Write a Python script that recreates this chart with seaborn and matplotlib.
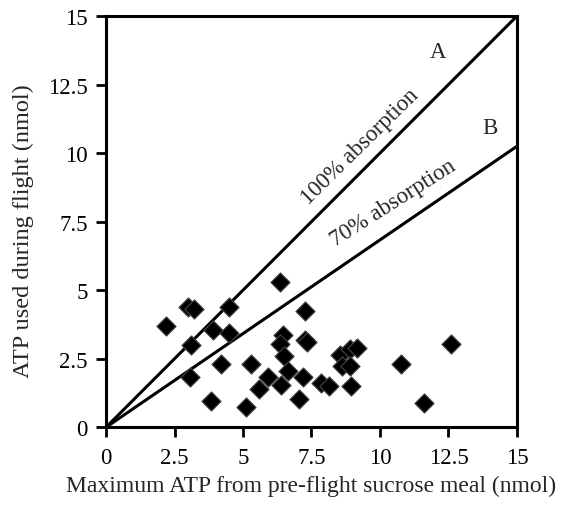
import matplotlib
matplotlib.use("Agg")
import matplotlib.pyplot as plt
import seaborn as sns
import numpy as np
import pandas as pd

# Data
max_atp = [2.2, 3.0, 3.2, 4.5, 6.35, 7.25, 3.9, 4.5, 3.1, 3.05, 4.2, 3.85, 5.1, 5.3,
           5.9, 5.6, 6.45, 6.35, 7.25, 7.35, 6.5, 6.65, 6.4, 7.2, 7.05, 7.85, 8.15,
           8.55, 8.9, 9.15, 8.6, 8.9, 8.95, 10.75, 12.6, 11.6]
atp_used = [3.7, 4.4, 4.3, 4.4, 5.3, 4.25, 3.55, 3.45, 3.0, 1.85, 2.3, 0.97, 0.75, 2.3,
            1.85, 1.4, 3.35, 3.05, 3.2, 3.1, 2.6, 2.05, 1.55, 1.85, 1.03, 1.6, 1.5,
            2.65, 2.85, 2.9, 2.25, 2.25, 1.5, 2.3, 3.05, 0.9]
line_x = [0, 15]
line_a_y = [0, 15]
line_b_y = [0, 10.25]
ticks = [0, 2.5, 5, 7.5, 10, 12.5, 15]
tick_labels = ["0", "2.5", "5", "7.5", "10", "12.5", "15"]

sns.set_style("ticks")
plt.rcParams['font.family'] = ['Liberation Serif', 'DejaVu Serif']

fig = plt.figure(figsize=(5.66, 5.06), dpi=100)
ax = fig.add_axes([0.1873, 0.1536, 0.7261, 0.8128])

df = pd.DataFrame({"x": max_atp, "y": atp_used})
lines = pd.DataFrame({"x": line_x + line_x,
                      "y": line_a_y + line_b_y,
                      "line": ["A", "A", "B", "B"]})
sns.lineplot(data=lines, x="x", y="y", units="line", estimator=None,
             color="black", lw=2.2, ax=ax, legend=False)
sns.scatterplot(data=df, x="x", y="y", marker="D", s=95, color="black",
                edgecolor="#444444", linewidth=0.8, ax=ax, zorder=3, legend=False)

ax.set_xlim(0, 15)
ax.set_ylim(0, 15)
ax.set_xticks(ticks)
ax.set_xticklabels(tick_labels)
ax.set_yticks(ticks)
ax.set_yticklabels(tick_labels)
ax.tick_params(direction="out", length=7, width=2, labelsize=16.5, color="black",
               labelcolor="black")
ax.tick_params(axis="x", pad=7.5)
ax.tick_params(axis="y", pad=6)
for sp in ax.spines.values():
    sp.set_visible(True)
    sp.set_linewidth(2.2)
    sp.set_color("black")

ax.set_xlabel("Maximum ATP from pre-flight sucrose meal (nmol)", fontsize=17, va="center")
ax.set_ylabel("ATP used during flight (nmol)", fontsize=17.5, va="center")
ax.xaxis.set_label_coords(0.5, -0.1425)
ax.yaxis.set_label_coords(-0.202, 0.48)

ax.text(9.27, 10.25, "100% absorption", rotation=44.5, rotation_mode="anchor",
        ha="center", va="center", fontsize=16.5)
ax.text(10.47, 8.21, "70% absorption", rotation=32.5, rotation_mode="anchor",
        ha="center", va="center", fontsize=16.5)
ax.text(12.12, 13.7, "A", ha="center", va="center", fontsize=16.5)
ax.text(14.0, 10.94, "B", ha="center", va="center", fontsize=16.5)

fig.savefig("out.png", dpi=100)
